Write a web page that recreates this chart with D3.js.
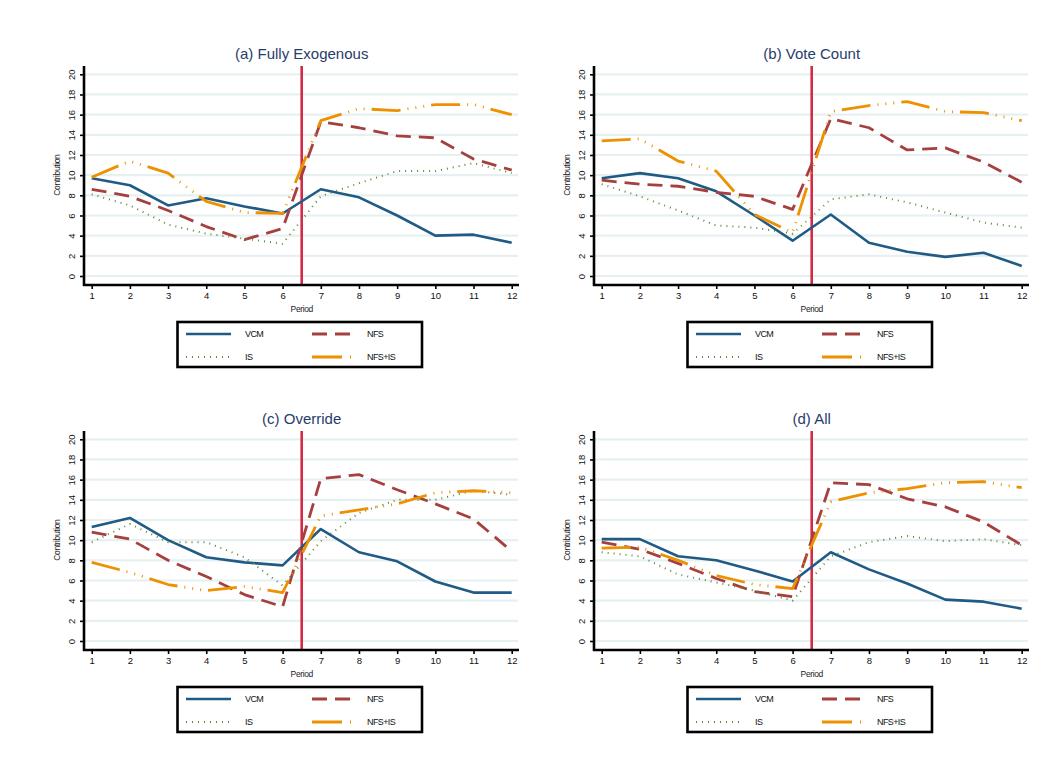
<!DOCTYPE html>
<html>
<head>
<meta charset="utf-8">
<script src="https://cdn.jsdelivr.net/npm/d3@7"></script>
<style>
  html, body { margin: 0; padding: 0; background: #ffffff; }
  svg { display: block; }
  text { font-family: "Liberation Sans", Arial, Helvetica, sans-serif; }
</style>
</head>
<body>
<svg id="chart" width="1055" height="769"></svg>
<script>
// ---------- data ----------
const periods = [1, 2, 3, 4, 5, 6, 7, 8, 9, 10, 11, 12];
const yTicks = [0, 2, 4, 6, 8, 10, 12, 14, 16, 18, 20];
const panelTitles = ["(a) Fully Exogenous", "(b) Vote Count", "(c) Override", "(d) All"];
const seriesNames = ["VCM", "NFS", "IS", "NFS+IS"];
const treatmentBreak = 6.5;

// (a) Fully Exogenous
const vcmA   = [9.7, 9.0, 7.0, 7.7, 6.9, 6.2, 8.6, 7.8, 6.0, 4.0, 4.1, 3.3];
const nfsA   = [8.6, 7.9, 6.5, 4.9, 3.6, 4.7, 15.3, 14.7, 13.9, 13.7, 11.6, 10.5];
const isA    = [8.1, 7.0, 5.1, 4.2, 3.7, 3.2, 7.9, 9.2, 10.4, 10.4, 11.2, 10.2];
const nfsisA = [9.8, 11.4, 10.2, 7.4, 6.3, 6.2, 15.4, 16.6, 16.4, 17.0, 17.0, 16.0];

// (b) Vote Count
const vcmB   = [9.7, 10.2, 9.7, 8.4, 6.0, 3.5, 6.1, 3.3, 2.4, 1.9, 2.3, 1.0];
const nfsB   = [9.5, 9.1, 8.9, 8.3, 7.9, 6.6, 15.6, 14.7, 12.5, 12.7, 11.3, 9.3];
const isB    = [9.1, 7.9, 6.5, 5.0, 4.8, 4.2, 7.6, 8.1, 7.3, 6.3, 5.3, 4.8];
const nfsisB = [13.4, 13.6, 11.4, 10.4, 6.1, 4.3, 16.3, 16.9, 17.3, 16.3, 16.2, 15.4];

// (c) Override
const vcmC   = [11.3, 12.2, 10.0, 8.3, 7.8, 7.5, 11.1, 8.8, 7.9, 5.9, 4.8, 4.8];
const nfsC   = [10.8, 10.1, 8.0, 6.4, 4.6, 3.4, 16.1, 16.5, 15.0, 13.6, 12.1, 8.9];
const isC    = [9.8, 11.6, 9.8, 9.8, 8.3, 5.5, 9.9, 12.7, 14.0, 14.0, 14.9, 14.5];
const nfsisC = [7.8, 6.8, 5.6, 5.0, 5.4, 4.8, 12.4, 13.0, 13.6, 14.7, 14.9, 14.7];

// (d) All
const vcmD   = [10.1, 10.1, 8.4, 8.0, 7.0, 5.9, 8.8, 7.1, 5.7, 4.1, 3.9, 3.2];
const nfsD   = [9.8, 9.1, 7.7, 6.2, 4.9, 4.4, 15.7, 15.5, 14.1, 13.3, 11.8, 9.5];
const isD    = [8.8, 8.4, 6.6, 5.8, 5.0, 4.0, 8.4, 9.8, 10.4, 9.9, 10.1, 9.5];
const nfsisD = [9.2, 9.3, 8.0, 6.5, 5.6, 5.2, 13.8, 14.7, 15.1, 15.7, 15.8, 15.2];

const panelData = [
  [vcmA, nfsA, isA, nfsisA],
  [vcmB, nfsB, isB, nfsisB],
  [vcmC, nfsC, isC, nfsisC],
  [vcmD, nfsD, isD, nfsisD]
];

// ---------- styles ----------
const styles = [
  { color: "#1f5b84", width: 2.6, dash: null },
  { color: "#a5403f", width: 2.8, dash: "15,8" },
  { color: "#5d8a36", width: 2.0, dash: "1,5" },
  { color: "#ee9100", width: 2.8, dash: "29,7,1,7,1,7,1,7" }
];

const svg = d3.select("#chart");
const offsets = [[0, 0], [510, 0], [0, 365], [510, 365]];

// Panel geometry (panel a)
const plotLeft = 84, plotRight = 519, plotTop = 66, plotBottom = 285;

panelData.forEach((series, i) => {
  const [dx, dy] = offsets[i];
  const g = svg.append("g").attr("transform", `translate(${dx},${dy})`);

  const x = d3.scaleLinear().domain([1, 12]).range([91.7, 511.7]);
  const y = d3.scaleLinear().domain([0, 20]).range([276, 74.3]);

  // gridlines
  g.append("g").selectAll("line").data(yTicks).join("line")
    .attr("x1", plotLeft).attr("x2", plotRight - 1)
    .attr("y1", d => y(d)).attr("y2", d => y(d))
    .attr("stroke", "#e6f0f1").attr("stroke-width", 2.2);

  // treatment break line
  g.append("line")
    .attr("x1", x(treatmentBreak)).attr("x2", x(treatmentBreak))
    .attr("y1", plotTop).attr("y2", plotBottom)
    .attr("stroke", "#d42a45").attr("stroke-width", 2.6);

  // series lines
  const lineGen = d3.line().x((d, j) => x(periods[j])).y(d => y(d));
  series.forEach((vals, k) => {
    const s = styles[k];
    g.append("path")
      .datum(vals)
      .attr("d", lineGen)
      .attr("fill", "none")
      .attr("stroke", s.color)
      .attr("stroke-width", s.width)
      .attr("stroke-linejoin", "round")
      .attr("stroke-dasharray", s.dash);
  });

  // y axis
  const yAxis = d3.axisLeft(y).tickValues(yTicks).tickSize(4).tickPadding(3).tickSizeOuter(0);
  const ya = g.append("g").attr("transform", `translate(${plotLeft},0)`).call(yAxis);
  ya.select(".domain").remove();
  ya.append("line").attr("x1", 0).attr("x2", 0).attr("y1", plotTop).attr("y2", plotBottom + 1)
    .attr("stroke", "#000").attr("stroke-width", 2.6);
  ya.selectAll(".tick line").attr("stroke", "#000").attr("stroke-width", 1.6);
  ya.selectAll(".tick text")
    .attr("font-size", 9.5).attr("fill", "#111")
    .attr("x", null).attr("dy", null)
    .attr("text-anchor", "middle")
    .attr("transform", "translate(-13,0) rotate(-90)")
    .attr("dominant-baseline", "central");

  // x axis
  const xAxis = d3.axisBottom(x).tickValues(periods).tickSize(4).tickPadding(3).tickSizeOuter(0);
  const xa = g.append("g").attr("transform", `translate(0,${plotBottom})`).call(xAxis);
  xa.select(".domain").remove();
  xa.append("line").attr("x1", plotLeft - 1).attr("x2", plotRight).attr("y1", 0).attr("y2", 0)
    .attr("stroke", "#000").attr("stroke-width", 2.6);
  xa.selectAll(".tick line").attr("stroke", "#000").attr("stroke-width", 1.6);
  xa.selectAll(".tick text").attr("font-size", 9.5).attr("fill", "#111");

  // axis titles
  g.append("text").attr("x", x(6.5)).attr("y", 312)
    .attr("text-anchor", "middle").attr("font-size", 8.5).attr("fill", "#222")
    .attr("letter-spacing", -0.4).text("Period");
  g.append("text").attr("transform", `translate(60,${y(10)}) rotate(-90)`)
    .attr("text-anchor", "middle").attr("font-size", 8.5).attr("fill", "#222")
    .attr("letter-spacing", -0.4).text("Contribution");

  // title
  g.append("text").attr("x", x(6.5)).attr("y", 59)
    .attr("text-anchor", "middle").attr("font-size", 15).attr("fill", "#283c6a")
    .text(panelTitles[i]);

  // legend
  const lg = g.append("g");
  lg.append("rect").attr("x", 177.5).attr("y", 322).attr("width", 244.5).attr("height", 45)
    .attr("fill", "#fff").attr("stroke", "#000").attr("stroke-width", 2.6);
  const legPos = [
    { x1: 186, x2: 231, tx: 245, y: 334 },
    { x1: 312, x2: 350, tx: 367, y: 334 },
    { x1: 186, x2: 231, tx: 245, y: 357 },
    { x1: 312, x2: 351, tx: 367, y: 357 }
  ];
  seriesNames.forEach((name, k) => {
    const p = legPos[k], s = styles[k];
    lg.append("line").attr("x1", p.x1).attr("x2", p.x2).attr("y1", p.y).attr("y2", p.y)
      .attr("stroke", s.color).attr("stroke-width", s.width)
      .attr("stroke-dasharray", k === 3 ? "30,8,1,20" : s.dash);
    lg.append("text").attr("x", p.tx).attr("y", p.y).attr("dominant-baseline", "central")
      .attr("font-size", 9).attr("letter-spacing", -0.6).attr("fill", "#111").text(name);
  });
});
</script>
</body>
</html>
